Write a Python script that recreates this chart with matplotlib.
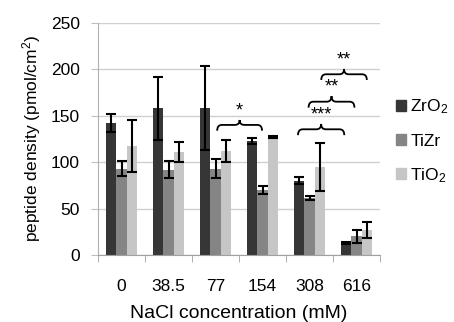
import matplotlib
matplotlib.use("Agg")
import matplotlib.pyplot as plt
from matplotlib.path import Path
from matplotlib.patches import PathPatch, Patch
import numpy as np

plt.rcParams['font.family'] = ['Liberation Sans', 'DejaVu Sans']
plt.rcParams['mathtext.default'] = 'regular'

# data
concentrations = ["0", "38.5", "77", "154", "308", "616"]
zro2 = [142, 158, 158, 123, 80, 13]
zro2_err = [10, 34, 45, 3, 3.5, 1]
tizr = [93, 92, 93, 70, 61, 20]
tizr_err = [8, 9, 10, 4, 2, 7]
tio2 = [117, 111, 112, 127, 95, 27]
tio2_err = [28, 11, 12, 1, 26, 9]

series = [("ZrO$_2$", zro2, zro2_err, "#363636"),
          ("TiZr", tizr, tizr_err, "#858585"),
          ("TiO$_2$", tio2, tio2_err, "#c6c6c6")]

# significance brackets: (x start, x end, y ends, y flat, y tip, label)
brackets = [(2.035, 2.99, 133.8, 140, 145.3, "*"),
            (3.755, 4.74, 129, 135.3, 141, "***"),
            (3.98, 4.956, 158.6, 165, 171, "**"),
            (4.25, 5.22, 188.4, 194.5, 200, "**")]


def draw_brace(ax, x0, x1, yb, yf, yt, label):
    xm = (x0 + x1) / 2
    r = 0.1
    verts = [(x0, yb), (x0, yf), (x0 + r, yf),
             (xm - r, yf), (xm, yf), (xm, yt),
             (xm, yf), (xm + r, yf),
             (x1 - r, yf), (x1, yf), (x1, yb)]
    codes = [Path.MOVETO, Path.CURVE3, Path.CURVE3,
             Path.LINETO, Path.CURVE3, Path.CURVE3,
             Path.CURVE3, Path.CURVE3,
             Path.LINETO, Path.CURVE3, Path.CURVE3]
    ax.add_patch(PathPatch(Path(verts, codes), fill=False, lw=1.3, color="black"))
    ax.text(xm, yt + 1, label, ha="center", va="bottom", fontsize=13)


fig = plt.figure(figsize=(4.54, 3.22), dpi=100)
ax = fig.add_axes([0.216, 0.208, 0.621, 0.7215])

x = np.arange(len(concentrations))
width = 0.223
for i, (name, vals, errs, col) in enumerate(series):
    ax.bar(x + (i - 1) * width, vals, width, color=col, label=name, zorder=2,
           yerr=errs, error_kw=dict(ecolor="black", elinewidth=1.5, capsize=3.6, capthick=1.5, zorder=3))

for b in brackets:
    draw_brace(ax, *b)

ax.set_xlim(-0.5, 5.5)
ax.set_ylim(0, 250)
ax.set_yticks(np.arange(0, 251, 50))
ax.yaxis.grid(True, color="#d0d0d0", lw=1)
ax.set_axisbelow(True)
ax.set_xticks(x)
ax.set_xticklabels(concentrations)
ax.set_xticks(np.arange(-0.5, 6, 1), minor=True)
ax.tick_params(axis="x", which="major", length=0, pad=17, labelsize=12.5)
ax.tick_params(axis="x", which="minor", length=5, color="#a0a0a0")
ax.tick_params(axis="y", length=5, color="#c0c0c0", pad=8, labelsize=12.5)
for s in ["top", "right"]:
    ax.spines[s].set_visible(False)
ax.spines["left"].set_color("#b0b0b0")
ax.spines["bottom"].set_color("#a0a0a0")

ax.set_xlabel("NaCl concentration (mM)", fontsize=14, labelpad=8)
ax.set_ylabel("peptide density (pmol/cm$^2$)", fontsize=12.5, labelpad=6)

handles = [Patch(color=c) for _, _, _, c in series]
ax.legend(handles, [s[0] for s in series], loc="center left", bbox_to_anchor=(1.0, 0.49),
          frameon=False, fontsize=12.5, handlelength=0.6, handleheight=0.6,
          handletextpad=0.25, labelspacing=1.0)

fig.savefig("out.png", dpi=100)
